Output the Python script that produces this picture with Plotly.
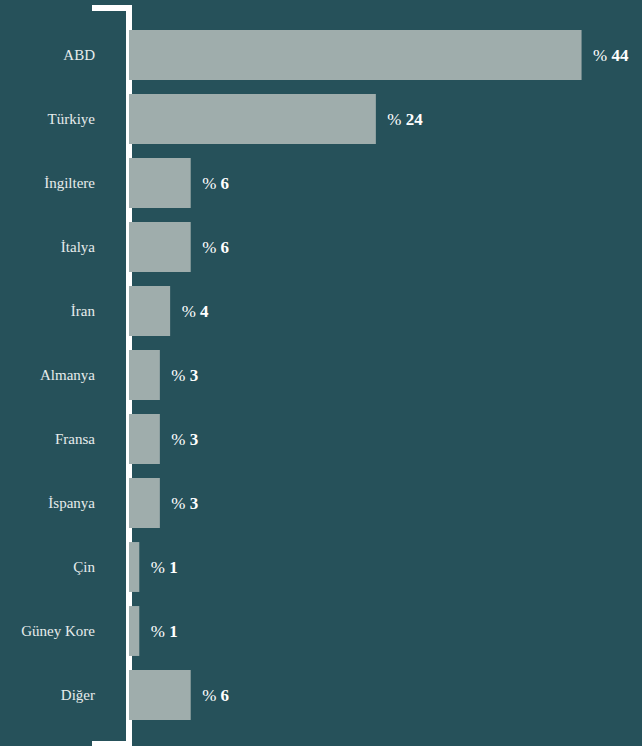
import plotly.graph_objects as go

# Country shares (percent)
countries = ["ABD", "Türkiye", "İngiltere", "İtalya", "İran", "Almanya",
             "Fransa", "İspanya", "Çin", "Güney Kore", "Diğer"]
shares = [44, 24, 6, 6, 4, 3, 3, 3, 1, 1, 6]
share_labels = [f"&nbsp;&nbsp;% <b>{v}</b>" for v in shares]

BG = "#26515a"
BAR = "#9fadac"
SERIF = "Liberation Serif, DejaVu Serif, serif"

fig = go.Figure(
    go.Bar(
        y=countries,
        x=shares,
        orientation="h",
        marker=dict(color=BAR, line=dict(width=0)),
        text=share_labels,
        textposition="outside",
        textfont=dict(family=SERIF, size=17, color="#ffffff"),
        cliponaxis=False,
        hoverinfo="skip",
    )
)

W, H = 642, 746
ml, mr, mt, mb = 129, 9, 23, 19
pw, ph = W - ml - mr, H - mt - mb


def px_x(p):
    return (p - ml) / pw


def px_y(p):
    return (H - mb - p) / ph


# White bracket along the category axis
fig.add_shape(
    type="path",
    xref="paper", yref="paper",
    path=(f"M {px_x(92)} {px_y(8)} L {px_x(129)} {px_y(8)} "
          f"L {px_x(129)} {px_y(744)} L {px_x(92)} {px_y(744)}"),
    line=dict(color="#ffffff", width=6),
    layer="below",
)

fig.update_layout(
    width=W, height=H,
    margin=dict(l=ml, r=mr, t=mt, b=mb),
    paper_bgcolor=BG,
    plot_bgcolor=BG,
    bargap=0.22,
    showlegend=False,
    xaxis=dict(range=[0, 49], visible=False, fixedrange=True),
    yaxis=dict(
        autorange="reversed",
        showgrid=False, zeroline=False, showline=False,
        ticks="",
        ticklabelstandoff=33,
        tickfont=dict(family=SERIF, size=15, color="#e6ecec"),
        fixedrange=True,
    ),
)

fig.write_html("out.html")
